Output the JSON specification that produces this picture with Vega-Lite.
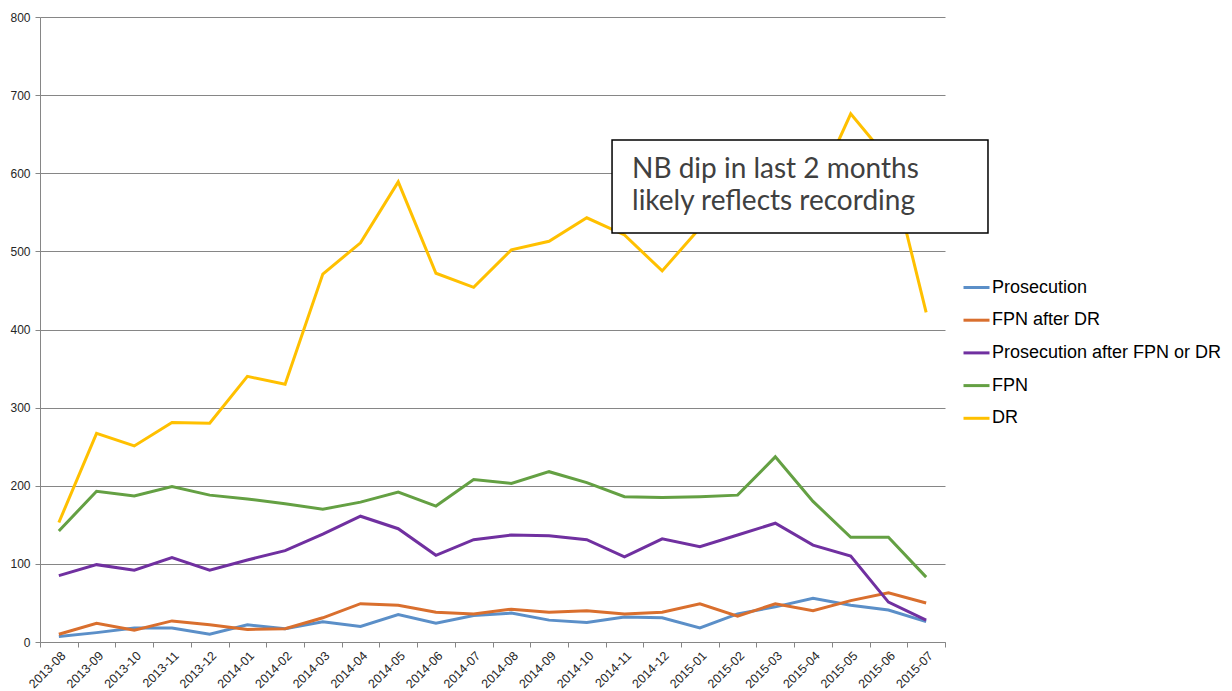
{
  "$schema": "https://vega.github.io/schema/vega-lite/v6.json",
  "autosize": {"type": "none"},
  "width": 905,
  "height": 625,
  "padding": {"left": 40, "top": 17, "right": 287, "bottom": 49},
  "background": "white",
  "config": {"view": {"stroke": null}, "font": "Liberation Sans"},
  "datasets": {
    "series": [
      {"month":"2013-08","series":"Prosecution","value":7},
      {"month":"2013-09","series":"Prosecution","value":12},
      {"month":"2013-10","series":"Prosecution","value":18},
      {"month":"2013-11","series":"Prosecution","value":18},
      {"month":"2013-12","series":"Prosecution","value":10},
      {"month":"2014-01","series":"Prosecution","value":22},
      {"month":"2014-02","series":"Prosecution","value":17},
      {"month":"2014-03","series":"Prosecution","value":26},
      {"month":"2014-04","series":"Prosecution","value":20},
      {"month":"2014-05","series":"Prosecution","value":35},
      {"month":"2014-06","series":"Prosecution","value":24},
      {"month":"2014-07","series":"Prosecution","value":34},
      {"month":"2014-08","series":"Prosecution","value":37},
      {"month":"2014-09","series":"Prosecution","value":28},
      {"month":"2014-10","series":"Prosecution","value":25},
      {"month":"2014-11","series":"Prosecution","value":32},
      {"month":"2014-12","series":"Prosecution","value":31},
      {"month":"2015-01","series":"Prosecution","value":18},
      {"month":"2015-02","series":"Prosecution","value":36},
      {"month":"2015-03","series":"Prosecution","value":45},
      {"month":"2015-04","series":"Prosecution","value":56},
      {"month":"2015-05","series":"Prosecution","value":47},
      {"month":"2015-06","series":"Prosecution","value":41},
      {"month":"2015-07","series":"Prosecution","value":26},
      {"month":"2013-08","series":"FPN after DR","value":10},
      {"month":"2013-09","series":"FPN after DR","value":24},
      {"month":"2013-10","series":"FPN after DR","value":15},
      {"month":"2013-11","series":"FPN after DR","value":27},
      {"month":"2013-12","series":"FPN after DR","value":22},
      {"month":"2014-01","series":"FPN after DR","value":16},
      {"month":"2014-02","series":"FPN after DR","value":17},
      {"month":"2014-03","series":"FPN after DR","value":31},
      {"month":"2014-04","series":"FPN after DR","value":49},
      {"month":"2014-05","series":"FPN after DR","value":47},
      {"month":"2014-06","series":"FPN after DR","value":38},
      {"month":"2014-07","series":"FPN after DR","value":36},
      {"month":"2014-08","series":"FPN after DR","value":42},
      {"month":"2014-09","series":"FPN after DR","value":38},
      {"month":"2014-10","series":"FPN after DR","value":40},
      {"month":"2014-11","series":"FPN after DR","value":36},
      {"month":"2014-12","series":"FPN after DR","value":38},
      {"month":"2015-01","series":"FPN after DR","value":49},
      {"month":"2015-02","series":"FPN after DR","value":33},
      {"month":"2015-03","series":"FPN after DR","value":49},
      {"month":"2015-04","series":"FPN after DR","value":40},
      {"month":"2015-05","series":"FPN after DR","value":53},
      {"month":"2015-06","series":"FPN after DR","value":63},
      {"month":"2015-07","series":"FPN after DR","value":50},
      {"month":"2013-08","series":"Prosecution after FPN or DR","value":85},
      {"month":"2013-09","series":"Prosecution after FPN or DR","value":99},
      {"month":"2013-10","series":"Prosecution after FPN or DR","value":92},
      {"month":"2013-11","series":"Prosecution after FPN or DR","value":108},
      {"month":"2013-12","series":"Prosecution after FPN or DR","value":92},
      {"month":"2014-01","series":"Prosecution after FPN or DR","value":105},
      {"month":"2014-02","series":"Prosecution after FPN or DR","value":117},
      {"month":"2014-03","series":"Prosecution after FPN or DR","value":138},
      {"month":"2014-04","series":"Prosecution after FPN or DR","value":161},
      {"month":"2014-05","series":"Prosecution after FPN or DR","value":145},
      {"month":"2014-06","series":"Prosecution after FPN or DR","value":111},
      {"month":"2014-07","series":"Prosecution after FPN or DR","value":131},
      {"month":"2014-08","series":"Prosecution after FPN or DR","value":137},
      {"month":"2014-09","series":"Prosecution after FPN or DR","value":136},
      {"month":"2014-10","series":"Prosecution after FPN or DR","value":131},
      {"month":"2014-11","series":"Prosecution after FPN or DR","value":109},
      {"month":"2014-12","series":"Prosecution after FPN or DR","value":132},
      {"month":"2015-01","series":"Prosecution after FPN or DR","value":122},
      {"month":"2015-02","series":"Prosecution after FPN or DR","value":137},
      {"month":"2015-03","series":"Prosecution after FPN or DR","value":152},
      {"month":"2015-04","series":"Prosecution after FPN or DR","value":124},
      {"month":"2015-05","series":"Prosecution after FPN or DR","value":110},
      {"month":"2015-06","series":"Prosecution after FPN or DR","value":51},
      {"month":"2015-07","series":"Prosecution after FPN or DR","value":28},
      {"month":"2013-08","series":"FPN","value":142},
      {"month":"2013-09","series":"FPN","value":193},
      {"month":"2013-10","series":"FPN","value":187},
      {"month":"2013-11","series":"FPN","value":199},
      {"month":"2013-12","series":"FPN","value":188},
      {"month":"2014-01","series":"FPN","value":183},
      {"month":"2014-02","series":"FPN","value":177},
      {"month":"2014-03","series":"FPN","value":170},
      {"month":"2014-04","series":"FPN","value":179},
      {"month":"2014-05","series":"FPN","value":192},
      {"month":"2014-06","series":"FPN","value":174},
      {"month":"2014-07","series":"FPN","value":208},
      {"month":"2014-08","series":"FPN","value":203},
      {"month":"2014-09","series":"FPN","value":218},
      {"month":"2014-10","series":"FPN","value":204},
      {"month":"2014-11","series":"FPN","value":186},
      {"month":"2014-12","series":"FPN","value":185},
      {"month":"2015-01","series":"FPN","value":186},
      {"month":"2015-02","series":"FPN","value":188},
      {"month":"2015-03","series":"FPN","value":237},
      {"month":"2015-04","series":"FPN","value":180},
      {"month":"2015-05","series":"FPN","value":134},
      {"month":"2015-06","series":"FPN","value":134},
      {"month":"2015-07","series":"FPN","value":83},
      {"month":"2013-08","series":"DR","value":153},
      {"month":"2013-09","series":"DR","value":267},
      {"month":"2013-10","series":"DR","value":251},
      {"month":"2013-11","series":"DR","value":281},
      {"month":"2013-12","series":"DR","value":280},
      {"month":"2014-01","series":"DR","value":340},
      {"month":"2014-02","series":"DR","value":330},
      {"month":"2014-03","series":"DR","value":471},
      {"month":"2014-04","series":"DR","value":511},
      {"month":"2014-05","series":"DR","value":589},
      {"month":"2014-06","series":"DR","value":472},
      {"month":"2014-07","series":"DR","value":454},
      {"month":"2014-08","series":"DR","value":502},
      {"month":"2014-09","series":"DR","value":513},
      {"month":"2014-10","series":"DR","value":543},
      {"month":"2014-11","series":"DR","value":521},
      {"month":"2014-12","series":"DR","value":475},
      {"month":"2015-01","series":"DR","value":530},
      {"month":"2015-02","series":"DR","value":548},
      {"month":"2015-03","series":"DR","value":590},
      {"month":"2015-04","series":"DR","value":570},
      {"month":"2015-05","series":"DR","value":676},
      {"month":"2015-06","series":"DR","value":618},
      {"month":"2015-07","series":"DR","value":422}
    ],
    "note": [
      {"x1": 15.17, "x2": 25.14, "y1": 523.5, "y2": 642.6, "tx": 15.7, "ty": 594, "label": ["NB dip in last 2 months", "likely reflects recording"]}
    ]
  },
  "layer": [
    {
      "data": {"name": "series"},
      "mark": {"type": "line", "strokeWidth": 3, "strokeJoin": "miter"},
      "encoding": {
        "x": {
          "field": "month", "type": "ordinal",
          "scale": {"type": "band", "paddingInner": 0, "paddingOuter": 0},
          "axis": {
            "title": null, "labelAngle": -45, "labelFontSize": 12.5, "labelColor": "#262626",
            "domainColor": "#868686", "tickColor": "#868686", "tickSize": 5, "tickBand": "extent",
            "grid": false, "labelPadding": 2
          }
        },
        "y": {
          "field": "value", "type": "quantitative",
          "scale": {"domain": [0, 800], "nice": false},
          "axis": {
            "title": null, "values": [0,100,200,300,400,500,600,700,800],
            "labelFontSize": 12, "labelColor": "#262626",
            "domainColor": "#868686", "tickColor": "#868686", "tickSize": 5,
            "gridColor": "#868686", "gridWidth": 1, "labelPadding": 5
          }
        },
        "color": {
          "field": "series", "type": "nominal",
          "scale": {
            "domain": ["Prosecution", "FPN after DR", "Prosecution after FPN or DR", "FPN", "DR"],
            "range": ["#5B8FC8", "#D96F2E", "#7030A0", "#64A043", "#FFC000"]
          },
          "legend": {
            "title": null, "orient": "none", "legendX": 922, "legendY": 256,
            "symbolType": "stroke", "symbolSize": 676, "symbolStrokeWidth": 3,
            "labelFontSize": 18, "labelColor": "#000000", "labelOffset": 1, "labelLimit": 400,
            "rowPadding": 8.7, "padding": 0
          }
        }
      }
    },
    {
      "data": {"name": "note"},
      "mark": {"type": "rect", "fill": "white", "stroke": "#000000", "strokeWidth": 1.5},
      "encoding": {
        "x": {"field": "x1", "type": "quantitative", "scale": {"domain": [0, 24], "nice": false, "zero": false}, "axis": null},
        "x2": {"field": "x2"},
        "y": {"field": "y1", "type": "quantitative"},
        "y2": {"field": "y2"}
      }
    },
    {
      "data": {"name": "note"},
      "mark": {"type": "text", "align": "left", "baseline": "alphabetic", "fontSize": 28, "color": "#404040", "lineHeight": 32, "font": "Lato"},
      "encoding": {
        "x": {"field": "tx", "type": "quantitative", "scale": {"domain": [0, 24], "nice": false, "zero": false}, "axis": null},
        "y": {"field": "ty", "type": "quantitative"},
        "text": {"field": "label"}
      }
    }
  ],
  "resolve": {"scale": {"x": "independent"}, "axis": {"x": "independent"}}
}
